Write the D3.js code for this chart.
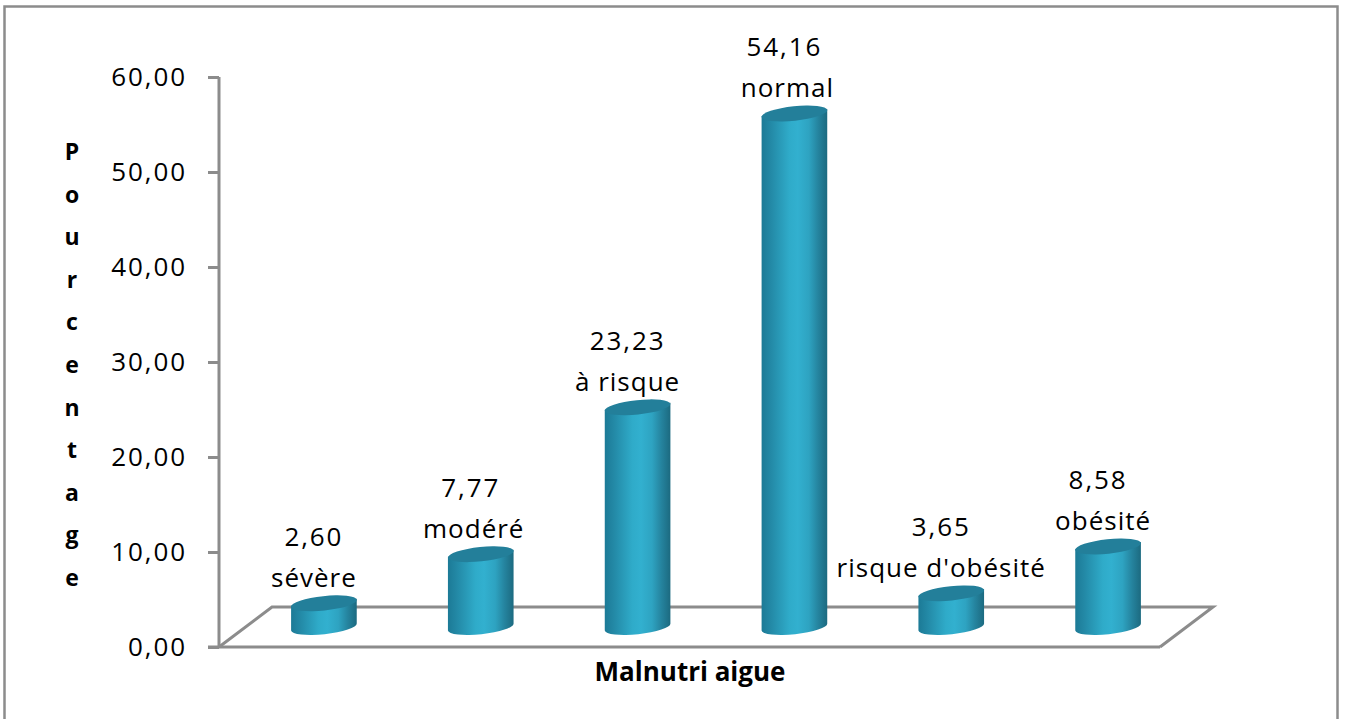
<!DOCTYPE html>
<html lang="fr">
<head>
<meta charset="utf-8">
<script src="https://cdn.jsdelivr.net/npm/d3@7"></script>
<style>
html, body { margin: 0; padding: 0; background: #fff; }
svg { display: block; }
text { font-family: "Open Sans", sans-serif; fill: #000; }
</style>
</head>
<body>
<div id="chart"></div>
<script>
const categories = ["sévère", "modéré", "à risque", "normal", "risque d'obésité", "obésité"];
const values = [2.60, 7.77, 23.23, 54.16, 3.65, 8.58];
const valueTexts = ["2,60", "7,77", "23,23", "54,16", "3,65", "8,58"];
const yTicks = [0, 10, 20, 30, 40, 50, 60];
const yTitle = "Pourcentage";
const xTitle = "Malnutri aigue";

// horizontal label adjustments, in pixels, for category names only
const catNudge = [0, 3, 0, 3, 0, 5];

const W = 1346, H = 719;
const lineColor = "#8c8c8c";

const svg = d3.select("#chart").append("svg").attr("width", W).attr("height", H);

// outer chart border
svg.append("rect")
  .attr("x", 4.5).attr("y", 6.5).attr("width", 1333).attr("height", 730)
  .attr("fill", "#fff").attr("stroke", lineColor).attr("stroke-width", 2.5);

const y = d3.scaleLinear().domain([0, 60]).range([647, 77]);

// the floor is a parallelogram; the columns stand half way through its depth
const depthX = 53, depthY = 40;
const x = d3.scaleBand().domain(categories)
  .range([219 + depthX / 2, 1160 + depthX / 2]);
const barRx = 33, barRy = 7.2, tilt = 6 * Math.PI / 180;
const floorShift = 20;

const defs = svg.append("defs");
const grad = defs.append("linearGradient").attr("id", "cyl")
  .attr("x1", "0").attr("x2", "1").attr("y1", "0").attr("y2", "0");
[[0, "#1c7a96"], [0.14, "#2389a6"], [0.42, "#2fabc9"], [0.55, "#32b0cf"],
 [0.72, "#2ea3c1"], [0.86, "#25849f"], [1, "#1c6a80"]]
  .forEach(([o, c]) => grad.append("stop").attr("offset", o).attr("stop-color", c));

// floor
const floor = svg.append("g").attr("fill", "none").attr("stroke", lineColor).attr("stroke-width", 3);
floor.append("path").attr("d", d3.line()([
  [219, y(0)], [219 + depthX, y(0) - depthY],
  [1160 + depthX, y(0) - depthY], [1160, y(0)]
])).attr("stroke-linejoin", "miter");

// value axis, with the line at its zero baseline extended along the floor front
const axis = d3.axisLeft(y).tickValues(yTicks).tickSize(11).tickPadding(21)
  .tickFormat(d => d3.format(".2f")(d).replace(".", ","));
const axisG = svg.append("g").attr("transform", "translate(219,0)").call(axis);
axisG.selectAll("path, line").attr("stroke", lineColor).attr("stroke-width", 3);
axisG.select("path").attr("d", `M0,${y(60)}V${y(0)}`);
axisG.selectAll("text").attr("font-size", 26).attr("letter-spacing", 1.9).attr("fill", "#111");
svg.append("line").attr("x1", 208).attr("x2", 1160).attr("y1", y(0)).attr("y2", y(0))
  .attr("stroke", lineColor).attr("stroke-width", 3);

// cylinders
const dx = barRx * Math.cos(tilt), dy = barRx * Math.sin(tilt), deg = tilt * 180 / Math.PI;
const rows = categories.map((c, i) => ({ c, v: values[i], t: valueTexts[i], n: catNudge[i] }));
const bars = svg.append("g").selectAll("g").data(rows)
  .join("g")
  .attr("transform", d => `translate(${x(d.c) + x.bandwidth() / 2},0)`);

const yBase = y(0) - floorShift;
const yTop = d => y(d.v) - floorShift;

bars.append("path")
  .attr("fill", "url(#cyl)")
  .attr("d", d => `M${-dx},${yTop(d) + dy}L${dx},${yTop(d) - dy}L${dx},${yBase - dy}` +
    `A${barRx},${barRy} ${-deg} 0 1 ${-dx},${yBase + dy}Z`);

bars.append("ellipse")
  .attr("rx", barRx).attr("ry", barRy)
  .attr("fill", "#237f9a")
  .attr("transform", d => `translate(0,${yTop(d) + 1}) rotate(${-deg})`);

// data labels: value above category name
const labels = svg.append("g").attr("text-anchor", "middle");
labels.selectAll("text.cat").data(rows).join("text").attr("class", "cat")
  .attr("font-size", 26).attr("letter-spacing", 1)
  .attr("x", d => x(d.c) + x.bandwidth() / 2 - 10 + d.n)
  .attr("y", d => yTop(d) - 15)
  .text(d => d.c);
labels.selectAll("text.val").data(rows).join("text").attr("class", "val")
  .attr("font-size", 26).attr("letter-spacing", 1.9)
  .attr("x", d => x(d.c) + x.bandwidth() / 2 - 10)
  .attr("y", d => yTop(d) - 56)
  .text(d => d.t);

// axis titles
svg.append("g").selectAll("text").data(yTitle.split("")).join("text")
  .attr("x", 72).attr("y", (d, i) => 160 + i * 42.6)
  .attr("text-anchor", "middle").attr("font-size", 23).attr("font-weight", 700)
  .text(d => d);
svg.append("text").attr("x", 690).attr("y", 681).attr("text-anchor", "middle")
  .attr("font-size", 26).attr("font-weight", 700).text(xTitle);
</script>
</body>
</html>
